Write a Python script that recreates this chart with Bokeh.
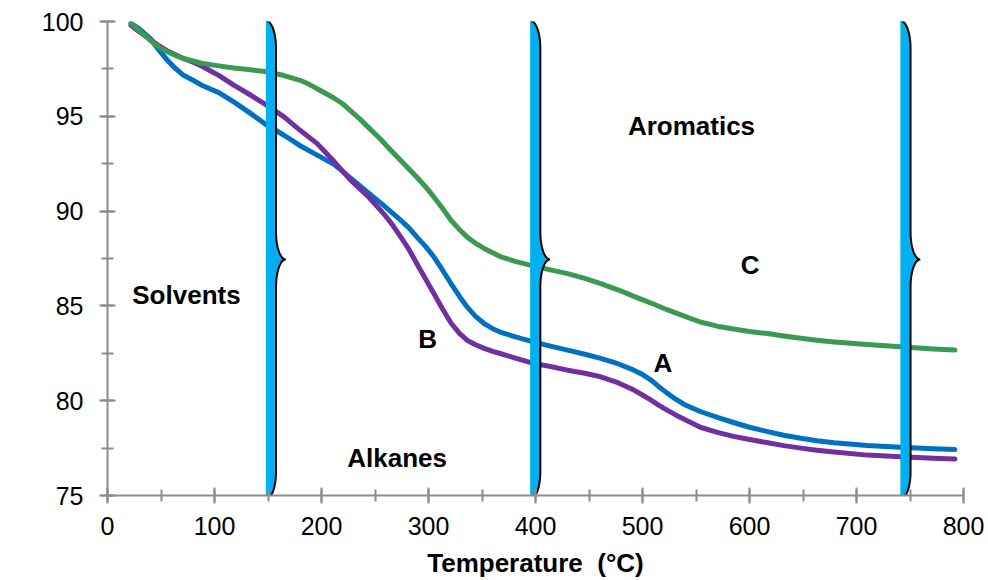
import numpy as np
from bokeh.plotting import figure
from bokeh.models import Range1d, SingleIntervalTicker, Label, ColumnDataSource
from bokeh.core.properties import value
from bokeh.embed import file_html
from bokeh.resources import INLINE

# TGA curves: temperature (°C) vs remaining weight (%)
temp_a = [22, 30, 40, 48, 56, 64, 71, 80, 88, 104, 118, 134, 149, 165, 180,
          196, 212, 227, 243, 258, 274, 282, 289, 297, 305, 313, 321, 329, 336, 344,
          352, 360, 367, 382, 398, 414, 430, 446, 461, 477, 492, 500, 508, 515, 523,
          531, 539, 547, 554, 570, 585, 600, 617, 632, 648, 663, 679, 710, 741, 772,
          792]
weight_a = [99.9, 99.6, 99.1, 98.5, 97.95, 97.5, 97.16, 96.9, 96.64, 96.25,
            95.76, 95.14, 94.53, 94.0, 93.45, 92.95, 92.45, 91.75, 91.0, 90.3,
            89.52, 89.1, 88.64, 88.15, 87.59, 86.9, 86.18, 85.5, 84.95, 84.45,
            84.07, 83.8, 83.62, 83.35, 83.1, 82.88, 82.67, 82.45, 82.23, 81.95,
            81.61, 81.38, 81.09, 80.75, 80.4, 80.08, 79.8, 79.6, 79.43, 79.12,
            78.85, 78.6, 78.37, 78.18, 78.02, 77.89, 77.78, 77.64, 77.54, 77.46,
            77.43]

temp_b = [22, 30, 40, 48, 56, 64, 71, 80, 88, 96, 104, 118, 134, 149, 165,
          180, 196, 212, 227, 243, 258, 266, 274, 282, 289, 297, 305, 313, 321, 329,
          336, 344, 352, 360, 367, 382, 398, 414, 430, 446, 461, 477, 492, 500, 508,
          515, 523, 531, 539, 547, 554, 570, 585, 600, 617, 632, 648, 663, 679, 710,
          741, 772, 792]
weight_b = [99.8, 99.45, 99.05, 98.72, 98.45, 98.23, 98.05, 97.85, 97.65, 97.4,
            97.16, 96.64, 96.11, 95.58, 94.97, 94.26, 93.56, 92.6, 91.65, 90.8,
            89.87, 89.3, 88.64, 87.95, 87.24, 86.45, 85.66, 84.85, 84.1, 83.55,
            83.19, 82.95, 82.76, 82.6, 82.49, 82.23, 81.97, 81.8, 81.61, 81.45,
            81.26, 80.95, 80.56, 80.3, 80.03, 79.77, 79.5, 79.25, 79.02, 78.8,
            78.6, 78.33, 78.12, 77.95, 77.78, 77.63, 77.5, 77.39, 77.29, 77.13,
            77.04, 76.96, 76.92]

temp_c = [22, 30, 40, 48, 56, 64, 71, 80, 88, 104, 118, 134, 149, 165, 180,
          188, 196, 204, 212, 220, 227, 236, 245, 255, 265, 277, 289, 297, 305, 313,
          321, 329, 336, 344, 352, 360, 367, 381, 395, 414, 430, 446, 461, 477, 492,
          508, 523, 539, 554, 570, 585, 600, 617, 632, 648, 663, 679, 695, 710, 741,
          772, 792]
weight_c = [99.9, 99.5, 99.0, 98.65, 98.4, 98.2, 98.05, 97.92, 97.8, 97.66,
            97.55, 97.45, 97.35, 97.15, 96.9, 96.7, 96.45, 96.2, 95.95, 95.65,
            95.3, 94.85, 94.35, 93.8, 93.2, 92.5, 91.8, 91.3, 90.75, 90.15,
            89.52, 89.02, 88.64, 88.3, 88.03, 87.8, 87.6, 87.35, 87.15, 86.9,
            86.7, 86.45, 86.18, 85.85, 85.5, 85.15, 84.8, 84.46, 84.15, 83.93,
            83.78, 83.65, 83.54, 83.41, 83.29, 83.19, 83.1, 83.03, 82.97, 82.85,
            82.73, 82.67]

# Temperatures separating the decomposition regions
boundary_temps = [148, 395, 741]

# Region names and curve names
region_names = ["Solvents", "Alkanes", "Aromatics"]
curve_names = ["A", "B", "C"]

# Where the names are written (°C, %)
region_pos_x = [73.8, 270.7, 545.8]
region_pos_y = [85.57, 77.0, 94.48]
curve_pos_x = [519.0, 299.2, 600.5]
curve_pos_y = [82.0, 83.24, 87.18]

FONT = "Liberation Sans"
AXIS_GREY = "#8c8c8c"

p = figure(width=988, height=580,
           x_range=Range1d(0, 800), y_range=Range1d(75, 100),
           output_backend="svg", toolbar_location=None,
           min_border_left=107, min_border_right=25,
           min_border_top=21, min_border_bottom=85)
p.outline_line_color = None
p.grid.visible = False
p.background_fill_color = "white"
p.border_fill_color = "white"

p.xaxis.ticker = SingleIntervalTicker(interval=100, num_minor_ticks=2)
p.yaxis.ticker = SingleIntervalTicker(interval=5, num_minor_ticks=2)

for ax in (p.xaxis[0], p.yaxis[0]):
    ax.axis_line_color = AXIS_GREY
    ax.axis_line_width = 2
    ax.major_tick_line_color = AXIS_GREY
    ax.major_tick_line_width = 2
    ax.minor_tick_line_color = AXIS_GREY
    ax.minor_tick_line_width = 2
    ax.major_tick_in = 8
    ax.major_tick_out = 8
    ax.minor_tick_in = 6
    ax.minor_tick_out = 6
    ax.major_label_text_font = FONT
    ax.major_label_text_font_size = "25px"
    ax.major_label_text_color = "black"

p.xaxis.major_label_standoff = 13
p.yaxis.major_label_standoff = 16

p.xaxis.axis_label = "Temperature \u00a0(°C)"
p.xaxis.axis_label_text_font = FONT
p.xaxis.axis_label_text_font_style = "bold"
p.xaxis.axis_label_text_font_size = "26px"
p.xaxis.axis_label_text_color = "black"
p.xaxis.axis_label_standoff = 10

# Y axis title, written as a rotated label beside the axis
p.add_layout(Label(x=-75, y=88.6, x_units="screen", y_units="data",
                   text="Weight (%)", angle=np.pi / 2,
                   text_align="center", text_baseline="alphabetic",
                   text_font=FONT, text_font_style="bold",
                   text_font_size="26px", text_color="black"))

# Weight-loss curves
curve_style = dict(line_width=5, line_cap="round", line_join="round")
p.line(temp_a, weight_a, line_color="#0070C0", **curve_style)
p.line(temp_b, weight_b, line_color="#7030A0", **curve_style)
p.line(temp_c, weight_c, line_color="#3B9A52", **curve_style)


def brace_outline(left):
    """Right-facing curly brace spanning the full weight axis."""
    col = left + 9.5
    tip = left + 18.5
    top, bottom, mid, r = 100.05, 74.8, 87.45, 1.45
    n = 14
    a = np.linspace(np.pi / 2, 0, n)
    b = np.linspace(np.pi, 1.5 * np.pi, n)
    c = np.linspace(np.pi / 2, np.pi, n)
    d = np.linspace(0, -np.pi / 2, n)
    xs = np.concatenate([
        left + (col - left) * np.cos(a),
        tip + (tip - col) * np.cos(b),
        tip + (tip - col) * np.cos(c),
        left + (col - left) * np.cos(d),
    ])
    ys = np.concatenate([
        (top - r) + r * np.sin(a),
        (mid + r) + r * np.sin(b),
        (mid - r) + r * np.sin(c),
        (bottom + r) + r * np.sin(d),
    ])
    return xs, ys


for t in boundary_temps:
    bx, by = brace_outline(t)
    p.patch(bx, by, fill_color="#00B0F0", line_color=None)
    p.line(bx, by, line_color="black", line_width=2)

label_src = ColumnDataSource(dict(
    x=region_pos_x + curve_pos_x,
    y=region_pos_y + curve_pos_y,
    text=region_names + curve_names,
))
p.text(x="x", y="y", text="text", source=label_src,
       text_font=value(FONT), text_font_style="bold", text_font_size="26px",
       text_color="black", text_align="center", text_baseline="middle")

with open("out.html", "w") as f:
    f.write(file_html(p, INLINE))
